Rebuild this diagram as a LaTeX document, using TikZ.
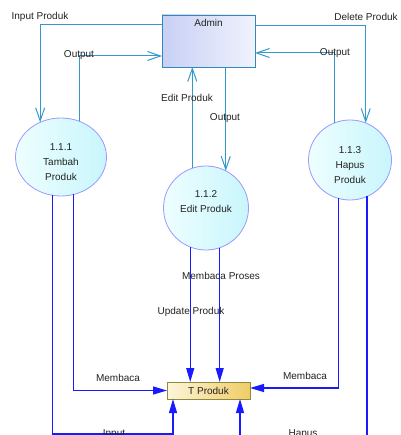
\documentclass[tikz,border=0pt]{standalone}
\usepackage{fontspec}
\setmainfont{Liberation Sans}
\usetikzlibrary{shapes.geometric,arrows.meta}
\definecolor{flowtop}{HTML}{3399CC}
\definecolor{flowlow}{HTML}{1A1AFF}
\definecolor{txt}{HTML}{222222}
\definecolor{ellborder}{HTML}{9999FF}
\definecolor{ellA}{HTML}{EEFEFF}
\definecolor{ellB}{HTML}{C8F6FC}
\definecolor{admA}{HTML}{C8D0F4}
\definecolor{admB}{HTML}{F0F2FD}
\definecolor{admborder}{HTML}{3388BB}
\definecolor{tpA}{HTML}{FDF6DC}
\definecolor{tpB}{HTML}{F0CC66}
\definecolor{tpborder}{HTML}{8C8C3C}
\tikzset{
  proc/.style={ellipse, draw=ellborder, line width=0.8pt, left color=ellA, right color=ellB, inner sep=0pt, outer sep=0pt},
  entity/.style={rectangle, draw=admborder, line width=0.9pt, left color=admA, right color=admB, inner sep=0pt, outer sep=0pt},
  store/.style={rectangle, draw=tpborder, line width=0.9pt, left color=tpA, right color=tpB, inner sep=0pt, outer sep=0pt},
  topflow/.style={draw=flowtop, line width=1pt, -{Straight Barb[length=13pt,width=9pt,line width=1pt]}},
  lowflow/.style={draw=flowlow, line width=1.2pt, -{Triangle[length=14pt,width=8pt]}},
  lowline/.style={draw=flowlow, line width=1.2pt},
  flabel/.style={inner sep=0pt, text=txt},
}
\begin{document}
\begin{tikzpicture}[x=1pt,y=-1pt,font=\fontsize{10}{15}\selectfont,text=txt]
\useasboundingbox (0,0) rectangle (400,435);
\clip (0,0) rectangle (400,435);

% nodes
\node[entity, minimum width=93pt, minimum height=52pt,
      label={[flabel,anchor=north,yshift=-4pt]north:Admin}] (admin) at (208.5,41) {};
\node[proc, minimum width=91pt, minimum height=78pt,
      label={[flabel,align=center,yshift=-5pt]center:1.1.1\\Tambah\\Produk}] (e1) at (61,157) {};
\node[proc, minimum width=85pt, minimum height=84pt,
      label={[flabel,align=center,yshift=6pt]center:1.1.2\\Edit Produk}] (e2) at (206,208) {};
\node[proc, minimum width=83pt, minimum height=80pt,
      label={[flabel,align=center,yshift=-5pt]center:1.1.3\\Hapus\\Produk}] (e3) at (350,160) {};
\node[store, minimum width=83pt, minimum height=17pt] (tp) at (208.5,390.5) {T Produk};

\coordinate (b1) at (0,434);
\coordinate (b2) at (0,437);

% top flows
\draw[topflow] ([yshift=16pt]admin.west) -| (e1.121);
\draw[topflow] (e1.63) |- ([yshift=-15pt]admin.west);
\draw[topflow] ([yshift=15pt]admin.east) -| (e3.67);
\draw[topflow] (e3.112) |- ([yshift=-12pt]admin.east);
\draw[topflow] (e2.109) -- (e2.109 |- admin.south);
\draw[topflow] (admin.south -| e2.62) -- (e2.62);

% lower flows
\draw[lowflow] (e1.289) |- (tp.west);
\draw[lowline] (e1.257) -- (e1.257 |- b1) coordinate (c1);
\draw[lowflow] (c1) -| ([xshift=-35.5pt]tp.south);
\draw[lowflow] (e2.248) -- (e2.248 |- tp.north);
\draw[lowflow] (e2.289) -- (e2.289 |- tp.north);
\draw[lowflow] (e3.253) |- ([yshift=2.5pt]tp.east);
\draw[lowline] (e3.295) -- (e3.295 |- b2) coordinate (c2);
\draw[lowflow] (c2) -| ([xshift=31.5pt]tp.south);

% labels
\node[flabel] (l1) at (40,17) {Input Produk};
\node[flabel] (l2) at (79,55) {Output};
\node[flabel] (l3) at (366,17) {Delete Produk};
\node[flabel] (l4) at (335,53) {Output};
\node[flabel] (l5) at (187,98) {Edit Produk};
\node[flabel] (l6) at (225,118) {Output};
\node[flabel] (l7) at (221,276) {Membaca Proses};
\node[flabel] (l8) at (191,312) {Update Produk};
\node[flabel] (l9) at (118,378) {Membaca};
\node[flabel] (l10) at (305,376) {Membaca};
\node[flabel] (l11) at (114,434) {Input};
\node[flabel] (l12) at (303,434) {Hapus};
\end{tikzpicture}
\end{document}
